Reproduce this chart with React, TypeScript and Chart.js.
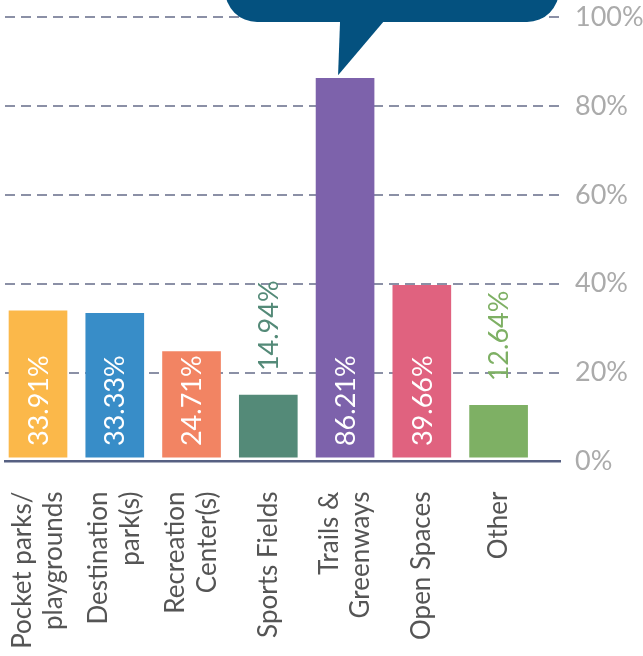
import React, { useEffect, useRef } from "react";
import { Chart, registerables } from "chart.js";

Chart.register(...registerables);

const categories: (string | string[])[] = [
  ["Pocket parks/", "playgrounds"],
  ["Destination", "park(s)"],
  ["Recreation", "Center(s)"],
  "Sports Fields",
  ["Trails &", "Greenways"],
  "Open Spaces",
  "Other",
];
const values: number[] = [33.91, 33.33, 24.71, 14.94, 86.21, 39.66, 12.64];
const barColors: string[] = ["#FBB84A", "#388DC8", "#F28463", "#548A78", "#7D62AB", "#E0627F", "#7EB064"];
const yTicks: number[] = [0, 20, 40, 60, 80, 100];
const calloutIndex = 4;

export default function App() {
  const ref = useRef<HTMLCanvasElement>(null);

  useEffect(() => {
    document.body.style.margin = "0";
    const canvas = ref.current!;

    const labelPlugin = {
      id: "barLabels",
      afterDatasetsDraw(chart: any) {
        const c = chart.ctx as CanvasRenderingContext2D;
        const meta = chart.getDatasetMeta(0);
        c.save();
        c.font = "400 27px Lato";
        meta.data.forEach((el: any, i: number) => {
          const { x, y, base } = el.getProps(["x", "y", "base"], true);
          const text = values[i].toFixed(2) + "%";
          const w = c.measureText(text).width;
          const inside = base - y > w + 12;
          c.save();
          c.translate(x + 1, inside ? base - 11 : y - 24);
          c.rotate(-Math.PI / 2);
          c.textAlign = "left";
          c.textBaseline = "middle";
          c.fillStyle = inside ? "#FFFFFF" : barColors[i];
          c.fillText(text, 0, 0);
          c.restore();
        });
        c.restore();
      },
    };

    const calloutPlugin = {
      id: "callout",
      afterDraw(chart: any) {
        const el = chart.getDatasetMeta(0).data[calloutIndex];
        if (!el) return;
        const { x, y } = el.getProps(["x", "y"], true);
        const yTop = chart.scales.y.getPixelForValue(100);
        const c = chart.ctx as CanvasRenderingContext2D;
        const left = x - 120;
        const right = x + 214;
        const bottom = yTop + 5;
        const top = bottom - 140;
        const r = 32;
        c.save();
        c.fillStyle = "#04517F";
        c.beginPath();
        c.moveTo(left + r, top);
        c.lineTo(right - r, top);
        c.arcTo(right, top, right, top + r, r);
        c.lineTo(right, bottom - r);
        c.arcTo(right, bottom, right - r, bottom, r);
        c.lineTo(left + r, bottom);
        c.arcTo(left, bottom, left, bottom - r, r);
        c.lineTo(left, top + r);
        c.arcTo(left, top, left + r, top, r);
        c.closePath();
        c.fill();
        c.beginPath();
        c.moveTo(x - 5, bottom - 1);
        c.lineTo(x + 39, bottom - 1);
        c.lineTo(x - 7, y - 3);
        c.closePath();
        c.fill();
        c.restore();
      },
    };

    const chart = new Chart(canvas, {
      type: "bar",
      data: {
        datasets: [
          {
            data: values.map((v, i) => ({ x: i, y: v })),
            backgroundColor: barColors,
            barThickness: 58,
            base: 1,
          } as any,
        ],
      },
      options: {
        animation: false,
        responsive: false,
        maintainAspectRatio: false,
        layout: { padding: { left: 5, top: 17, right: 0, bottom: 0 } },
        plugins: { legend: { display: false }, tooltip: { enabled: false } },
        scales: {
          x: {
            type: "linear",
            offset: false,
            min: -0.43,
            max: 6.8,
            grid: { display: false, drawTicks: false },
            border: { display: true, color: "#566082", width: 2.5 },
            afterBuildTicks: (axis: any) => {
              axis.ticks = categories.map((cat, i) => ({
                value: i - (Array.isArray(cat) ? (cat.length - 1) * 0.205 : 0),
              }));
            },
            afterFit: (axis: any) => {
              axis.height = 194.5;
              axis.paddingLeft = 0;
              axis.paddingRight = 0;
            },
            ticks: {
              autoSkip: false,
              maxRotation: 90,
              minRotation: 90,
              padding: 30,
              color: "#555555",
              font: { family: "Lato", size: 26, lineHeight: 1.22 },
              callback: (_v: any, i: number) => categories[i],
            },
          } as any,
          y: {
            position: "right",
            min: 0,
            max: 100,
            grid: {
              drawTicks: false,
              lineWidth: 2,
              color: (ctx: any) => (ctx.tick && ctx.tick.value === 0 ? "rgba(0,0,0,0)" : "#8B90A6"),
            },
            border: { display: false, dash: [10, 6] },
            afterBuildTicks: (axis: any) => {
              axis.ticks = yTicks.map((v) => ({ value: v }));
            },
            afterFit: (axis: any) => {
              axis.width = 83;
              axis.paddingTop = 0;
              axis.paddingBottom = 0;
            },
            ticks: {
              padding: 15,
              color: "#ABABAB",
              font: { family: "Lato", size: 27, weight: "400", lineHeight: 1 },
              callback: (v: any) => v + "%",
            },
          } as any,
        },
      },
      plugins: [labelPlugin, calloutPlugin],
    });

    return () => chart.destroy();
  }, []);

  return (
    <div style={{ width: 643, height: 656, position: "relative" }}>
      <canvas ref={ref} width={643} height={656} style={{ display: "block", width: 643, height: 656 }} />
    </div>
  );
}
